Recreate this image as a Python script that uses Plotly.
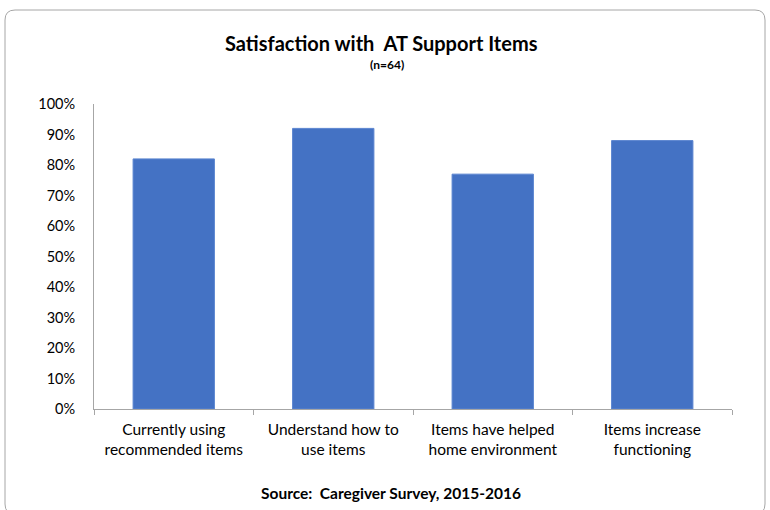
import plotly.graph_objects as go

categories = ["Currently using<br>recommended items", "Understand how to<br>use items",
              "Items have helped<br>home environment", "Items increase<br>functioning"]
values = [0.82, 0.92, 0.77, 0.88]
tick_vals = [i / 10 for i in range(11)]
tick_text = [f"{i*10}%" for i in range(11)]

W, H = 770, 510
L, R, T, B = 94, 38, 104, 101
pw, ph = W - L - R, H - T - B

def px(x):
    return (x - L) / pw

def py(y):
    return (H - B - y) / ph

FONT = "Lato, Calibri, Carlito, Arial, sans-serif"

fig = go.Figure(go.Bar(
    x=categories, y=values,
    marker=dict(color="#4472C4", line=dict(color="#5B85D0", width=1)),
    width=0.51,
))

# rounded border of chart area
x0, x1, y0, y1, r = 5, 765, 10, 514, 10
path = (f"M {px(x0+r)},{py(y0)} L {px(x1-r)},{py(y0)} Q {px(x1)},{py(y0)} {px(x1)},{py(y0+r)} "
        f"L {px(x1)},{py(y1-r)} Q {px(x1)},{py(y1)} {px(x1-r)},{py(y1)} "
        f"L {px(x0+r)},{py(y1)} Q {px(x0)},{py(y1)} {px(x0)},{py(y1-r)} "
        f"L {px(x0)},{py(y0+r)} Q {px(x0)},{py(y0)} {px(x0+r)},{py(y0)} Z")

fig.update_layout(
    width=W, height=H,
    margin=dict(l=L, r=R, t=T, b=B, autoexpand=False),
    paper_bgcolor="white", plot_bgcolor="white",
    showlegend=False,
    font=dict(family=FONT, color="#000000"),
    shapes=[dict(type="path", path=path, xref="paper", yref="paper",
                 line=dict(color="#A6A6A6", width=1), layer="below")],
    annotations=[
        dict(text="<b>Satisfaction with  AT Support Items</b>", x=px(381), y=py(43),
             xref="paper", yref="paper", showarrow=False, font=dict(size=20, family=FONT),
             xanchor="center", yanchor="middle"),
        dict(text="<b>(n=64)</b>", x=px(387), y=py(64),
             xref="paper", yref="paper", showarrow=False, font=dict(size=12, family=FONT),
             xanchor="center", yanchor="middle"),
        dict(text="<b>Source:  Caregiver Survey, 2015-2016</b>", x=px(391), y=py(493),
             xref="paper", yref="paper", showarrow=False, font=dict(size=15.5, family=FONT),
             xanchor="center", yanchor="middle"),
    ],
    xaxis=dict(
        showline=True, linecolor="#A6A6A6", linewidth=1,
        ticks="outside", tickson="boundaries", ticklen=5, tickcolor="#A6A6A6",
        tickfont=dict(size=15.5, family=FONT, color="#000000"),
        ticklabelstandoff=6,
        showgrid=False, zeroline=False,
    ),
    yaxis=dict(
        range=[0, 1], tickvals=tick_vals, ticktext=tick_text,
        showline=True, linecolor="#A6A6A6", linewidth=1,
        ticks="", ticklabelstandoff=15,
        tickfont=dict(size=14.5, family=FONT, color="#000000"),
        showgrid=False, zeroline=False,
    ),
    bargap=0.49,
)

fig.write_html("out.html", config={"displayModeBar": False},
               post_script="document.body.style.margin='0';document.body.style.padding='0';")
